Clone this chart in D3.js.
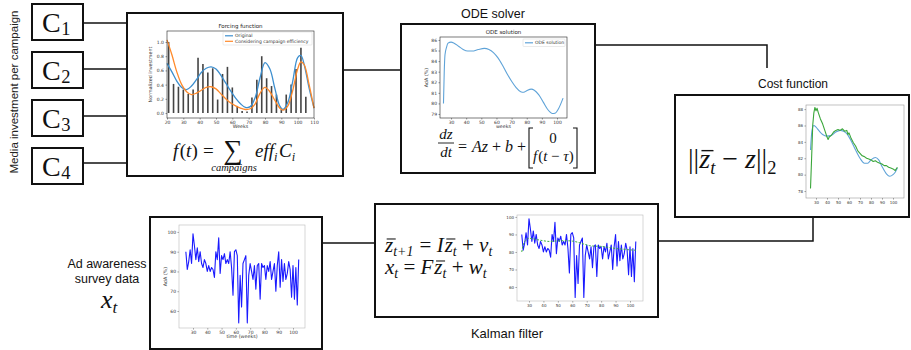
<!DOCTYPE html>
<html>
<head>
<meta charset="utf-8">
<script src="https://cdn.jsdelivr.net/npm/d3@7"></script>
<style>
  body { margin: 0; background: #fff; }
  svg { display: block; }
  text { white-space: pre; }
</style>
</head>
<body>
<svg id="chart"></svg>
<script>
// ---------- data ----------
const campaigns = ['1', '2', '3', '4'];

// forcing function (normalized investment per week)
const barWeeks = [21, 24, 27, 30, 33, 36, 39, 42, 45, 48, 51, 54, 57, 60, 63, 66, 69, 72, 75, 78, 81, 84, 87, 90, 93, 96, 99, 102, 105];
const barInvest = [1.0, 0.41, 0.37, 0.33, 0.27, 0.33, 0.78, 0.69, 0.57, 0.63, 0.19, 0.55, 0.65, 0.36, 0.10, 0.03, 0.02, 0.22, 0.47, 0.80, 0.49, 0.38, 0.26, 0.05, 0.26, 0.40, 0.62, 0.92, 0.23];
const forcingWeeks = [20, 23, 26, 29, 32, 35, 38, 41, 44, 47, 50, 53, 56, 59, 62, 65, 68, 71, 74, 77, 80, 83, 86, 89, 91, 94, 97, 100, 102, 104, 107, 110];
const forcingOriginal = [0.70, 0.58, 0.45, 0.36, 0.33, 0.38, 0.47, 0.57, 0.63, 0.65, 0.62, 0.53, 0.42, 0.31, 0.21, 0.13, 0.08, 0.09, 0.22, 0.50, 0.71, 0.62, 0.35, 0.10, 0.05, 0.15, 0.45, 0.78, 0.81, 0.68, 0.35, 0.07];
const forcingEfficiency = [1.03, 0.82, 0.58, 0.40, 0.30, 0.26, 0.28, 0.32, 0.36, 0.37, 0.34, 0.27, 0.20, 0.14, 0.10, 0.07, 0.05, 0.06, 0.13, 0.28, 0.36, 0.30, 0.18, 0.07, 0.04, 0.10, 0.32, 0.62, 0.72, 0.68, 0.40, 0.07];

// ODE solution (AdA %)
const odeWeeks = [25, 25.5, 26, 27, 28, 30, 32, 35, 38, 41, 44, 48, 52, 55, 58, 61, 64, 67, 70, 73, 76, 78, 80, 83, 85, 88, 91, 94, 97, 99, 101, 104];
const odeAdA = [80.0, 83.0, 84.6, 85.3, 85.7, 85.8, 85.7, 85.4, 85.1, 84.95, 84.95, 85.1, 85.2, 85.1, 84.8, 84.3, 83.6, 82.8, 82.1, 81.5, 81.1, 81.05, 81.2, 81.35, 81.25, 80.8, 80.1, 79.4, 79.05, 79.1, 79.5, 80.5];

// cost function plot: fitted model vs filtered state
const costFitWeeks = [25, 26, 27, 28, 30, 33, 36, 40, 44, 48, 52, 55, 58, 62, 66, 70, 74, 77, 80, 84, 87, 90, 94, 97, 100, 102, 104];
const costFit = [83.0, 85.0, 85.8, 86.0, 85.8, 85.3, 84.9, 84.7, 84.8, 85.2, 85.4, 85.3, 85.0, 84.1, 83.0, 82.0, 81.4, 81.4, 81.8, 82.1, 81.8, 81.0, 80.1, 79.8, 80.0, 80.3, 80.8];
const stateWeeks = [25, 26, 27, 28, 29, 30, 31, 32, 34, 36, 38, 40, 41, 42, 44, 46, 48, 50, 52, 54, 56, 58, 59, 60, 62, 64, 66, 68, 70, 72, 74, 76, 78, 80, 82, 84, 86, 88, 90, 92, 94, 96, 98, 100, 102, 104];
const stateAdA = [78.3, 82.0, 86.0, 87.5, 88.2, 87.8, 88.1, 87.6, 86.8, 86.2, 85.4, 84.6, 84.3, 84.6, 84.8, 85.2, 85.4, 85.5, 85.4, 85.6, 85.3, 85.4, 84.9, 85.1, 84.4, 83.9, 83.5, 82.9, 82.6, 82.3, 82.2, 82.0, 81.9, 81.8, 81.6, 81.7, 81.5, 81.4, 81.3, 81.1, 81.1, 80.9, 80.8, 80.7, 80.5, 80.9];

// weekly ad awareness survey (AdA %), weeks 25..104
const surveyWeeks = d3.range(25, 105);
const surveyAdA = [90, 81, 85, 91, 84, 99, 93, 86, 92, 85, 90, 84, 82, 86, 84, 80, 83, 80, 82, 81,
                   77, 90, 86, 97, 79, 88, 86, 89, 84, 86, 84, 90, 82, 68, 90, 91, 88, 54, 78, 62,
                   84, 86, 88, 54, 78, 84, 80, 76, 83, 71, 83, 84, 66, 84, 82, 83, 76, 83, 80, 85,
                   76, 80, 84, 70, 83, 90, 72, 86, 75, 84, 76, 79, 85, 81, 67, 83, 66, 82, 63, 86];

// Kalman filtered state
const kalmanWeeks = [25, 26, 28, 30, 32, 36, 40, 44, 48, 52, 56, 60, 64, 68, 72, 76, 80, 85, 90, 95, 100, 104];
const kalmanState = [80.0, 84.0, 86.8, 87.8, 87.6, 87.0, 86.4, 86.0, 86.2, 86.4, 86.4, 86.2, 85.5, 84.5, 83.6, 83.3, 83.2, 82.6, 82.0, 81.6, 81.2, 81.0];

// ---------- drawing ----------
const W = 911, H = 350;
const svg = d3.select('#chart').attr('width', W).attr('height', H);
const SANS = 'Liberation Sans, Arial, sans-serif';
const SERIF = 'Liberation Serif, DejaVu Serif, serif';
const TICK = 'DejaVu Sans, sans-serif';

// outer boxes
function box(x0, y0, x1, y1) {
  svg.append('rect').attr('x', x0).attr('y', y0).attr('width', x1 - x0).attr('height', y1 - y0)
    .attr('fill', '#fff').attr('stroke', '#111').attr('stroke-width', 2);
}
function wire(points) {
  svg.append('path').attr('d', d3.line()(points)).attr('fill', 'none')
    .attr('stroke', '#111').attr('stroke-width', 1.5);
}

// math-like text, pieces laid out one after the other
function formula(g, x, y, size, parts, subDrop) {
  let cx = x;
  const drop = subDrop == null ? size * 0.2 : subDrop;
  parts.forEach(p => {
    const fs = p.sub ? size * 0.66 : size * (p.scale || 1);
    const dy = p.sub ? drop : 0;
    const t = g.append('text').attr('x', cx).attr('y', y + dy)
      .attr('font-family', SERIF).attr('font-style', p.it ? 'italic' : 'normal')
      .attr('font-size', fs).attr('fill', '#111').text(p.t);
    const w = t.node().getComputedTextLength();
    if (p.bar) {
      g.append('line').attr('x1', cx + fs * 0.08).attr('x2', cx + w + fs * 0.12)
        .attr('y1', y - fs * 0.62).attr('y2', y - fs * 0.62)
        .attr('stroke', '#111').attr('stroke-width', size * 0.05);
    }
    cx += w + (p.gap || 0);
  });
  return cx;
}

// small matplotlib-like axes
function miniChart(o) {
  const g = svg.append('g');
  const x = d3.scaleLinear().domain(o.xDomain).range([o.left, o.right]);
  const y = d3.scaleLinear().domain(o.yDomain).range([o.bottom, o.top]);
  const style = a => {
    a.select('.domain').remove();
    a.attr('font-family', TICK).attr('font-size', o.fs || 4.5);
    a.selectAll('text').attr('fill', '#333');
    a.selectAll('line').attr('stroke', '#333').attr('stroke-width', 0.5);
  };
  g.append('g').attr('transform', `translate(0,${o.bottom})`)
    .call(d3.axisBottom(x).tickValues(o.xTicks).tickSize(1.5).tickPadding(1.5).tickFormat(d3.format('d')))
    .call(style);
  g.append('g').attr('transform', `translate(${o.left},0)`)
    .call(d3.axisLeft(y).tickValues(o.yTicks).tickSize(1.5).tickPadding(1.5).tickFormat(o.yFmt || d3.format('d')))
    .call(style);
  const plot = g.append('g');
  g.append('rect').attr('x', o.left).attr('y', o.top)
    .attr('width', o.right - o.left).attr('height', o.bottom - o.top)
    .attr('fill', 'none').attr('stroke', o.frame || '#222').attr('stroke-width', 0.6);
  if (o.title) g.append('text').attr('x', (o.left + o.right) / 2).attr('y', o.top - 3)
    .attr('text-anchor', 'middle').attr('font-family', TICK).attr('font-size', 5.5).attr('fill', '#222').text(o.title);
  if (o.xLabel) g.append('text').attr('x', (o.left + o.right) / 2).attr('y', o.bottom + 10)
    .attr('text-anchor', 'middle').attr('font-family', TICK).attr('font-size', 4.8).attr('fill', '#333').text(o.xLabel);
  if (o.yLabel) g.append('text').attr('transform', `translate(${o.yLabelX},${(o.top + o.bottom) / 2}) rotate(-90)`)
    .attr('text-anchor', 'middle').attr('font-family', TICK).attr('font-size', 4.8).attr('fill', '#333').text(o.yLabel);
  return { g, plot, x, y };
}

function drawLine(c, xs, ys, color, width, curve, dash) {
  const pts = xs.map((d, i) => [d, ys[i]]);
  c.plot.append('path')
    .attr('d', d3.line().x(d => c.x(d[0])).y(d => c.y(d[1])).curve(curve || d3.curveLinear)(pts))
    .attr('fill', 'none').attr('stroke', color).attr('stroke-width', width)
    .attr('stroke-linejoin', 'round').attr('stroke-dasharray', dash || null);
}

function legend(c, x0, y0, w, items) {
  const lg = c.g.append('g');
  lg.append('rect').attr('x', x0).attr('y', y0).attr('width', w).attr('height', items.length * 5.5 + 2)
    .attr('fill', '#fff').attr('stroke', '#ccc').attr('stroke-width', 0.4).attr('rx', 0.8);
  items.forEach((it, i) => {
    const yy = y0 + 3.8 + i * 5.5;
    lg.append('line').attr('x1', x0 + 2).attr('x2', x0 + 10).attr('y1', yy).attr('y2', yy)
      .attr('stroke', it.color).attr('stroke-width', 1.2);
    lg.append('text').attr('x', x0 + 12).attr('y', yy + 1.6).attr('font-family', TICK)
      .attr('font-size', 4.5).attr('fill', '#333').text(it.label);
  });
}

// ---- wires (behind boxes) ----
campaigns.forEach((c, i) => {
  const cy = [23, 69, 116, 163][i];
  wire([[83, cy], [128, cy]]);
});
wire([[343, 70], [401, 70]]);
wire([[595, 45], [767, 45], [767, 68]]);
wire([[322, 243], [375, 243]]);
wire([[658, 241], [813, 241], [813, 217]]);

// ---- left: campaign boxes ----
svg.append('text').attr('transform', 'translate(18,92) rotate(-90)').attr('text-anchor', 'middle')
  .attr('font-family', SANS).attr('font-size', 11.5).attr('fill', '#222').text('Media investment per campaign');
campaigns.forEach((c, i) => {
  const top = [4, 52, 100, 148][i];
  box(32, top, 83, top + 36);
  formula(svg, 42, top + 28, 28, [{ t: 'C', gap: 0.5 }, { t: c, sub: true }], 3);
});

// ---- forcing function ----
box(127, 13, 343, 176);
const fc = miniChart({
  left: 167, right: 314, top: 31, bottom: 118,
  xDomain: [20, 110], yDomain: [-0.07, 1.155],
  xTicks: d3.range(20, 111, 10), yTicks: [0, 0.2, 0.4, 0.6, 0.8, 1.0], yFmt: d3.format('.1f'),
  title: 'Forcing function', xLabel: 'Weeks', yLabel: 'Normalized investment', yLabelX: 152
});
fc.plot.selectAll('line.bar').data(barWeeks).enter().append('line').attr('class', 'bar')
  .attr('x1', d => fc.x(d)).attr('x2', d => fc.x(d))
  .attr('y1', fc.y(0)).attr('y2', (d, i) => fc.y(barInvest[i]))
  .attr('stroke', '#444').attr('stroke-width', 1.6);
drawLine(fc, forcingWeeks, forcingOriginal, '#3d8fcf', 1.3, d3.curveCatmullRom);
drawLine(fc, forcingWeeks, forcingEfficiency, '#ff8a2b', 1.3, d3.curveCatmullRom);
legend(fc, 223, 32, 89, [
  { color: '#3d8fcf', label: 'Original' },
  { color: '#ff8a2b', label: 'Considering campaign efficiency' }
]);
const ff = svg.append('g');
formula(ff, 173, 157, 19, [{ t: 'f', it: true, gap: 1.5 }, { t: '(' }, { t: 't', it: true }, { t: ')' }]);
formula(ff, 203, 157, 19, [{ t: '=' }]);
ff.append('text').attr('x', 233).attr('y', 159).attr('text-anchor', 'middle')
  .attr('font-family', SERIF).attr('font-size', 27).attr('fill', '#111').text('∑');
ff.append('text').attr('x', 234).attr('y', 171).attr('text-anchor', 'middle')
  .attr('font-family', SERIF).attr('font-style', 'italic').attr('font-size', 10.5).attr('fill', '#111').text('campaigns');
formula(ff, 255, 157, 19, [{ t: 'eff', it: true }, { t: 'i', it: true, sub: true, gap: 1.5 }, { t: 'C', it: true }, { t: 'i', it: true, sub: true }]);

// ---- ODE solver ----
svg.append('text').attr('x', 493).attr('y', 18).attr('text-anchor', 'middle')
  .attr('font-family', SANS).attr('font-size', 12.5).attr('fill', '#111').text('ODE solver');
box(401, 24, 595, 173);
const oc = miniChart({
  left: 440, right: 567, top: 37, bottom: 118,
  xDomain: [22.7, 106.6], yDomain: [78.62, 86.28],
  xTicks: d3.range(30, 101, 10), yTicks: d3.range(79, 87),
  title: 'ODE solution', xLabel: 'weeks', yLabel: 'AdA (%)', yLabelX: 428
});
drawLine(oc, odeWeeks, odeAdA, '#5fa3d8', 1.1, d3.curveMonotoneX);
legend(oc, 523, 39, 42, [{ color: '#5fa3d8', label: 'ODE solution' }]);
const of = svg.append('g');
of.append('text').attr('x', 446).attr('y', 139).attr('text-anchor', 'middle').attr('font-family', SERIF)
  .attr('font-style', 'italic').attr('font-size', 15).attr('fill', '#111').text('dz');
of.append('line').attr('x1', 438).attr('x2', 454).attr('y1', 143).attr('y2', 143).attr('stroke', '#111').attr('stroke-width', 0.9);
of.append('text').attr('x', 446).attr('y', 157).attr('text-anchor', 'middle').attr('font-family', SERIF)
  .attr('font-style', 'italic').attr('font-size', 15).attr('fill', '#111').text('dt');
formula(of, 458, 152, 16, [{ t: '=', gap: 5 }, { t: 'Az', it: true }, { t: ' + ' }, { t: 'b', it: true }, { t: ' +' }]);
of.append('path').attr('d', 'M533,128H529V168H533M573,128H577V168H573')
  .attr('fill', 'none').attr('stroke', '#111').attr('stroke-width', 1.1);
of.append('text').attr('x', 553).attr('y', 143).attr('text-anchor', 'middle').attr('font-family', SERIF)
  .attr('font-size', 15).attr('fill', '#111').text('0');
formula(of, 533, 161, 15, [{ t: 'f', it: true, gap: 1 }, { t: '(' }, { t: 't', it: true }, { t: ' − ' }, { t: 'τ', it: true }, { t: ')' }]);

// ---- cost function ----
svg.append('text').attr('x', 793).attr('y', 88).attr('text-anchor', 'middle')
  .attr('font-family', SANS).attr('font-size', 12).attr('fill', '#111').text('Cost function');
box(675, 95, 909, 217);
const cc = miniChart({
  left: 806, right: 904, top: 105, bottom: 198,
  xDomain: [20.9, 110], yDomain: [77.15, 88.5],
  xTicks: d3.range(30, 101, 10), yTicks: d3.range(78, 89, 2), fs: 4,
  frame: '#999'
});
drawLine(cc, costFitWeeks, costFit, '#5fa3d8', 1.1, d3.curveMonotoneX);
drawLine(cc, stateWeeks, stateAdA, '#3aa63a', 1.1, d3.curveLinear);
formula(svg, 688, 168, 28, [{ t: '||' }, { t: 'z', it: true, bar: true }, { t: 't', it: true, sub: true }, { t: ' − ' }, { t: 'z', it: true }, { t: '||' }, { t: '2', sub: true }]);

// ---- survey data ----
svg.append('text').attr('x', 107).attr('y', 268).attr('text-anchor', 'middle')
  .attr('font-family', SANS).attr('font-size', 12.5).attr('fill', '#111').text('Ad awareness');
svg.append('text').attr('x', 107).attr('y', 283).attr('text-anchor', 'middle')
  .attr('font-family', SANS).attr('font-size', 12.5).attr('fill', '#111').text('survey data');
formula(svg, 101, 308, 26, [{ t: 'x', it: true }, { t: 't', it: true, sub: true }]);
box(150, 217, 322, 349);
const sc = miniChart({
  left: 179, right: 305, top: 225, bottom: 328,
  xDomain: [20.2, 108.4], yDomain: [51.4, 103.5],
  xTicks: d3.range(30, 101, 10), yTicks: d3.range(60, 101, 10),
  xLabel: 'time (weeks)', yLabel: 'AdA (%)', yLabelX: 167, frame: '#bbb'
});
drawLine(sc, surveyWeeks, surveyAdA, '#1a1aff', 1.1);

// ---- Kalman filter ----
box(375, 204, 658, 317);
svg.append('text').attr('x', 507).attr('y', 338).attr('text-anchor', 'middle')
  .attr('font-family', SANS).attr('font-size', 13).attr('fill', '#111').text('Kalman filter');
formula(svg, 385, 252, 21, [{ t: 'z', it: true, bar: true }, { t: 't+1', it: true, sub: true, gap: 1 }, { t: ' = ' }, { t: 'I', it: true, gap: 1 },
  { t: 'z', it: true, bar: true }, { t: 't', it: true, sub: true }, { t: ' + ' }, { t: 'v', it: true }, { t: 't', it: true, sub: true }], 3.5);
formula(svg, 385, 274, 21, [{ t: 'x', it: true }, { t: 't', it: true, sub: true }, { t: ' = ' }, { t: 'F', it: true, gap: 1 },
  { t: 'z', it: true, bar: true }, { t: 't', it: true, sub: true }, { t: ' + ' }, { t: 'w', it: true }, { t: 't', it: true, sub: true }], 3.5);
const kc = miniChart({
  left: 517, right: 643, top: 215, bottom: 301,
  xDomain: [21.7, 109], yDomain: [52, 101.1],
  xTicks: d3.range(30, 101, 10), yTicks: d3.range(60, 101, 10), fs: 4,
  frame: '#bbb'
});
drawLine(kc, surveyWeeks, surveyAdA, '#1a1aff', 1.1);
drawLine(kc, kalmanWeeks, kalmanState, '#3cb043', 1.0, d3.curveMonotoneX, '2,1.5');
</script>
</body>
</html>
